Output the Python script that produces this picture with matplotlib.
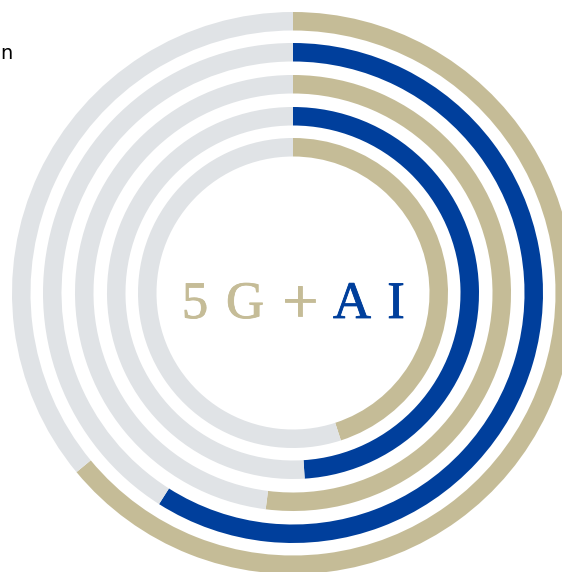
import matplotlib.pyplot as plt
import matplotlib.patheffects as pe

# ring values (percent), outer to inner
values = [64, 59, 52, 49, 45]
ring_colors = ['#C5BC97', '#003F9C', '#C5BC97', '#003F9C', '#C5BC97']
track_color = '#E0E3E6'
outer_radii = [281, 250, 218, 186, 155]
ring_width = 18.5

center_chars = ['5', 'G', '+', 'A', 'I']
char_colors = ['#C5BC97', '#C5BC97', '#C5BC97', '#003F9C', '#003F9C']

W, H = 562, 572
cx, cy = 293, H - 293

fig = plt.figure(figsize=(W / 100, H / 100), dpi=100)
ax = fig.add_axes([0, 0, 1, 1])

for v, c, r in zip(values, ring_colors, outer_radii):
    ax.pie([v, 100 - v], colors=[c, track_color], radius=r, center=(cx, cy),
           startangle=90, counterclock=False,
           wedgeprops=dict(width=ring_width, linewidth=0))

ax.set_xlim(0, W)
ax.set_ylim(0, H)
ax.set_aspect('equal')
ax.axis('off')

# centre label, one glyph at a time for the wide letter spacing
char_x = [195, 245, 300, 352, 396]
char_base = [318, 318, 322, 318, 318]
char_size = [38, 38, 46, 38, 38]
for ch, col, x, b, s in zip(center_chars, char_colors, char_x, char_base, char_size):
    ax.text(x, H - b, ch, color=col, fontsize=s, family='Liberation Serif',
            ha='center', va='baseline',
            path_effects=[pe.withStroke(linewidth=0.6, foreground=col)])

fig.text(0.0, 1 - 59 / H, 'n', fontsize=14, color='black', ha='left', va='baseline')

fig.savefig('out.png', dpi=100)
